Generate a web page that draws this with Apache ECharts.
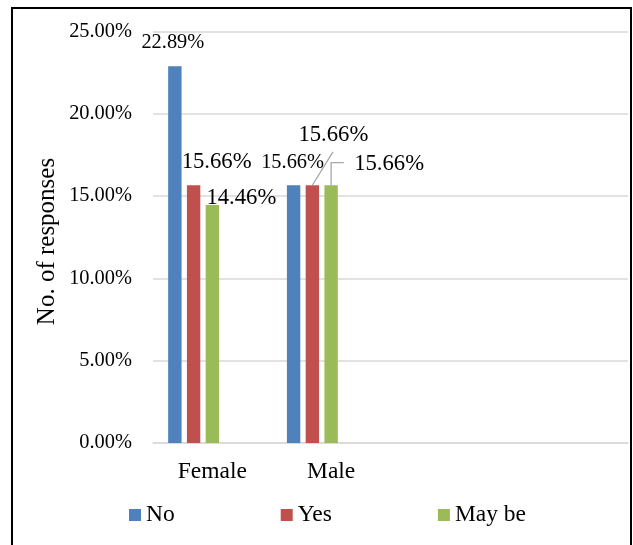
<!DOCTYPE html>
<html>
<head>
<meta charset="utf-8">
<script src="https://cdn.jsdelivr.net/npm/echarts@6/dist/echarts.min.js"></script>
<style>
  html, body { margin: 0; padding: 0; background: #fff; }
  #chart { width: 633px; height: 545px; }
</style>
</head>
<body>
<div id="chart"></div>
<script>
// Survey responses by gender (share of all responses, %)
var categories = ['Female', 'Male', '', ''];
var seriesNames = ['No', 'Yes', 'May be'];
var noValues = [22.89, 15.66, null, null];
var yesValues = [15.66, 15.66, null, null];
var maybeValues = [14.46, 15.66, null, null];
var yTicks = [0, 5, 10, 15, 20, 25];

var FONT = 'Liberation Serif';
var colors = ['#4f81bd', '#c0504d', '#9bbb59'];

// Per-label placement (pixel offset from the bar top) and size
var labelOffsets = [
  [[-2, -13.5], [-1, -12]],
  [[23, -11.5], [21, -39]],
  [[29, 4.5], [58, -10]]
];
var labelSizes = [
  [20.4, 20.4],
  [22.7, 22.7],
  [22.7, 22.7]
];

var valueSets = [noValues, yesValues, maybeValues];

function buildSeries(idx) {
  var vals = valueSets[idx];
  return {
    name: seriesNames[idx],
    type: 'bar',
    barWidth: 13.4,
    barGap: '40%',
    itemStyle: { color: colors[idx] },
    data: vals.map(function (v, i) {
      if (v === null) return '-';
      var fs = labelSizes[idx][i];
      return {
        value: v,
        label: {
          show: true,
          position: 'top',
          distance: 0,
          offset: labelOffsets[idx][i],
          fontFamily: FONT,
          fontSize: fs,
          lineHeight: fs
        }
      };
    }),
    label: {
      fontFamily: FONT,
      color: '#000',
      formatter: function (p) { return p.value.toFixed(2) + '%'; }
    }
  };
}

var series = [buildSeries(0), buildSeries(1), buildSeries(2)];
// two unused slots in each category group
series.push({ name: 's4', type: 'bar', barWidth: 13.4, barGap: '40%', data: ['-', '-', '-', '-'] });
series.push({ name: 's5', type: 'bar', barWidth: 13.4, barGap: '40%', data: ['-', '-', '-', '-'] });

var chart = echarts.init(document.getElementById('chart'), null, { renderer: 'canvas' });

var frame = {
  type: 'rect',
  shape: { x: 12, y: 8, width: 619, height: 560 },
  style: { fill: 'none', stroke: '#000', lineWidth: 2 },
  silent: true
};

chart.setOption({
  animation: false,
  textStyle: { fontFamily: FONT },
  grid: { left: 153, right: 5, top: 31.5, bottom: 102, containLabel: false },
  legend: {
    data: seriesNames,
    left: 129,
    top: 503,
    padding: 0,
    icon: 'rect',
    itemWidth: 12,
    itemHeight: 12,
    itemGap: 106,
    textStyle: { fontFamily: FONT, fontSize: 23.5, color: '#000', lineHeight: 23.5 }
  },
  xAxis: {
    type: 'category',
    data: categories,
    axisLine: { lineStyle: { color: '#d9d9d9', width: 1.5 } },
    axisTick: { show: false },
    axisLabel: { fontFamily: FONT, fontSize: 23.5, color: '#000', margin: 17 },
    splitLine: { show: false }
  },
  yAxis: {
    type: 'value',
    min: yTicks[0],
    max: yTicks[yTicks.length - 1],
    interval: 5,
    axisLine: { show: false },
    axisTick: { show: false },
    axisLabel: {
      fontFamily: FONT, fontSize: 20.4, color: '#000', margin: 21,
      formatter: function (v) { return v.toFixed(2) + '%'; }
    },
    splitLine: { lineStyle: { color: '#d9d9d9', width: 1.5 } }
  },
  series: series,
  graphic: [frame]
});

// Axis title, leader lines for the Male "Yes" and "May be" labels (anchored on bar tops)
function barTop(seriesIdx, dataIdx) {
  var data = chart.getModel().getSeriesByIndex(seriesIdx).getData();
  var l = data.getItemLayout(dataIdx);
  return [l.x + l.width / 2, Math.min(l.y, l.y + l.height)];
}
var yesTop = barTop(1, 1);
var maybeTop = barTop(2, 1);
var leaderStyle = { stroke: '#a6a6a6', lineWidth: 1.3, fill: 'none' };
chart.setOption({
  graphic: [frame, {
    type: 'text',
    x: 47,
    y: 241.5,
    rotation: Math.PI / 2,
    style: {
      text: 'No. of responses',
      font: '25px "Liberation Serif"',
      fill: '#000',
      align: 'center',
      verticalAlign: 'middle'
    },
    silent: true
  }, {
    type: 'polyline',
    shape: { points: [yesTop, [yesTop[0] + 20.6, yesTop[1] - 33.3]] },
    style: leaderStyle,
    silent: true
  }, {
    type: 'polyline',
    shape: { points: [maybeTop, [maybeTop[0], maybeTop[1] - 22.7], [maybeTop[0] + 12.7, maybeTop[1] - 22.7]] },
    style: leaderStyle,
    silent: true
  }]
});
</script>
</body>
</html>
